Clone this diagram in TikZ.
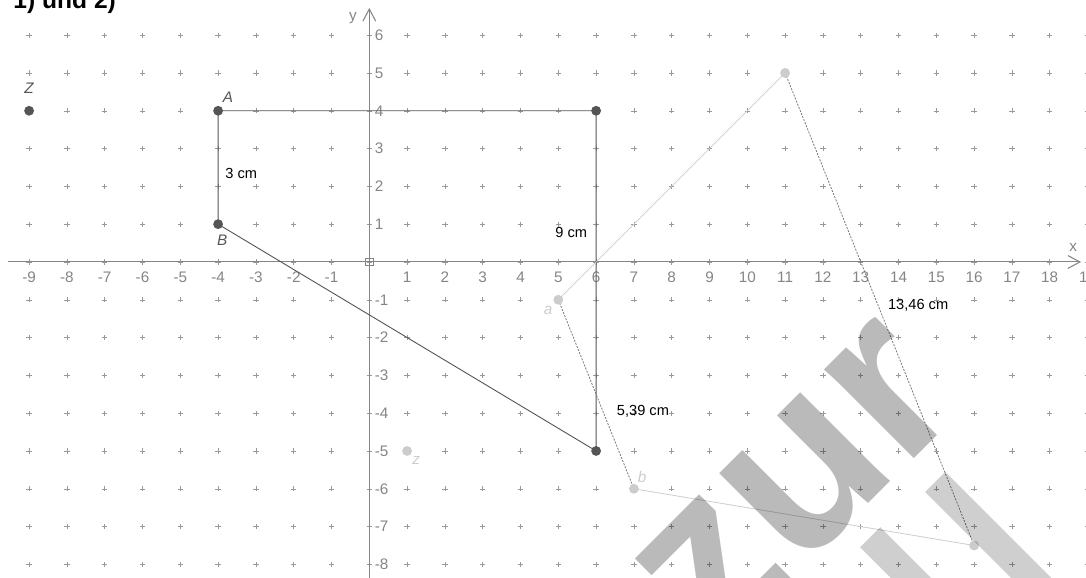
\documentclass[tikz,border=0pt]{standalone}
\usepackage{fontspec}
\setmainfont{Liberation Sans}
\usetikzlibrary{arrows.meta}
\definecolor{axisgray}{HTML}{858585}
\definecolor{ptdark}{HTML}{555555}
\definecolor{ptlight}{HTML}{CCCCCC}
\definecolor{segdark}{HTML}{777777}
\tikzset{
  gridcross/.style = {draw = gray!80, line width = .35pt},
  axis/.style = {draw = axisgray, line width = .8pt},
  ticklabel/.style = {text = axisgray, font = \fontsize{11.5}{12}\selectfont, inner sep = 0pt},
  lenlabel/.style = {text = black, font = \fontsize{11}{12}\selectfont, inner sep = 0pt},
  ptlabel/.style = {text = ptdark, font = \itshape\fontsize{11.5}{12}\selectfont, inner sep = 0pt},
  imglabel/.style = {text = ptlight, font = \itshape\fontsize{11.5}{12}\selectfont, inner sep = 0pt}
}
\begin{document}
\begin{tikzpicture}
\useasboundingbox (-9.77, -8.36) rectangle (18.96, 6.93);
% dotted grid
\foreach \x in {-9,...,19}
  \foreach \y in {-8,...,6}
    \draw[gridcross] (\x-.07,\y) -- (\x+.07,\y) (\x,\y-.07) -- (\x,\y+.07);
% axes
\draw[axis, -{Straight Barb[length = 3.2mm, width = 3.4mm]}] (-9.55,0) -- (18.83,0);
\draw[axis, -{Straight Barb[length = 3.2mm, width = 3.4mm]}] (0,-8.4) -- (0,6.72);
\draw[axis, line width = .5pt] (-.1,-.1) rectangle (.1,.1);
\foreach \x in {-9,...,-1,1,2,...,19}
  \node[ticklabel] (xl\x) at (\x,-.4) {\x};
\foreach \y in {-8,...,-1,1,2,...,6}
  \node[ticklabel, anchor = west] (yl\y) at (.14,\y) {\y};
\node[ticklabel] (xname) at (18.62,.38) {x};
\node[ticklabel] (yname) at (-.43,6.45) {y};
% header, cut by the page edge
\node[anchor = base west, inner sep = 0pt, font = \bfseries\fontsize{18.5}{20}\selectfont] (head) at (-9.42,6.7) {1) und 2)};
% original figure
\coordinate (Z) at (-9,4);
\coordinate (A) at (-4,4);
\coordinate (B) at (-4,1);
\coordinate (C) at (6,4);
\coordinate (D) at (6,-5);
\draw[ptdark, line width = .7pt] (C) -- (A) -- (B) -- (D) -- (C);
% image under the stretching
\coordinate (z) at (1,-5);
\coordinate (a) at (5,-1);
\coordinate (b) at (7,-6);
\coordinate (c) at (11,5);
\coordinate (d) at (16,-7.5);
\draw[ptlight, line width = .6pt] (c) -- (a);
\draw[ptlight, line width = .6pt] (b) -- (d);
\draw[segdark, line width = .6pt, dash pattern = on 1.5pt off 1pt] (a) -- (b);
\draw[segdark, line width = .6pt, dash pattern = on 1.5pt off 1pt] (c) -- (d);
% points
\foreach \p in {Z,A,B,C,D}
  \fill[ptdark] (\p) circle (.13);
\foreach \p in {z,a,b,c,d}
  \fill[ptlight] (\p) circle (.13);
\node[ptlabel] (lZ) at (-9,4.6) {Z};
\node[ptlabel] (lA) at (-3.74,4.37) {A};
\node[ptlabel] (lB) at (-3.89,.58) {B};
\node[imglabel] (la) at (4.73,-1.27) {a};
\node[imglabel] (lb) at (7.22,-5.69) {b};
\node[imglabel] (lz) at (1.24,-5.26) {z};
\node[lenlabel] (lAB) at (-3.39,2.35) {3 cm};
\node[lenlabel] (lCD) at (5.34,.79) {9 cm};
\node[lenlabel] (lab) at (7.24,-3.94) {5,39 cm};
\node[lenlabel] (lcd) at (14.52,-1.14) {13,46 cm};
% watermark
\begin{scope}
\clip (-9.77, -8.36) rectangle (18.96, 6.93);
\node[rotate = 45, text = black, opacity = .27, inner sep = 0pt,
  font = \bfseries\fontsize{180}{180}\selectfont] (mark) at (11.3,-5.95) {zur};
\draw[black, opacity = .19, line width = .75cm] (14.97,-5.82) -- (17.8,-8.65);
\draw[black, opacity = .19, line width = .75cm] (13.25,-7.28) -- (14.6,-8.63);
\end{scope}
\end{tikzpicture}
\end{document}
